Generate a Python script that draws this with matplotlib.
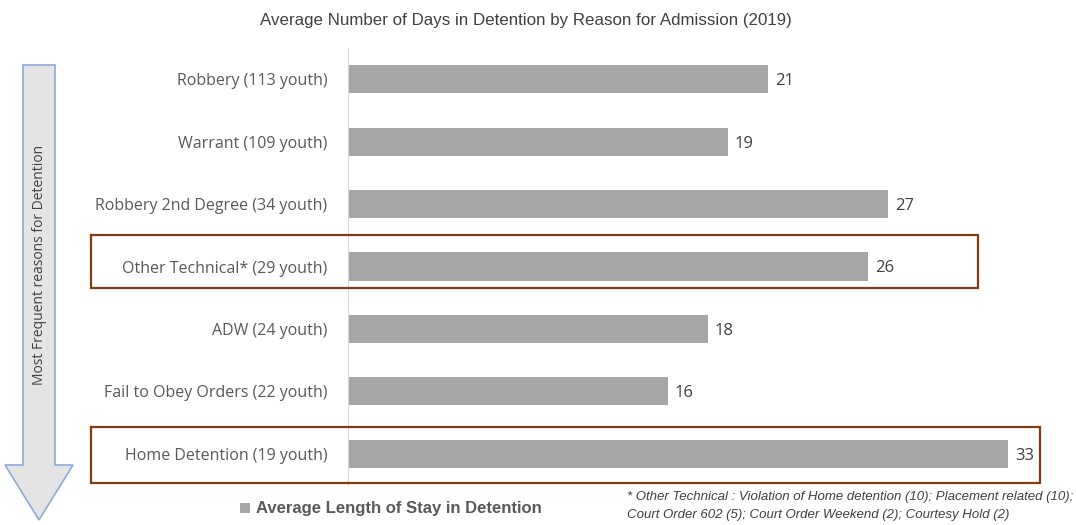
import matplotlib.pyplot as plt
from matplotlib.patches import Rectangle, FancyArrow

categories = ['Robbery (113 youth)', 'Warrant (109 youth)', 'Robbery 2nd Degree (34 youth)',
              'Other Technical* (29 youth)', 'ADW (24 youth)', 'Fail to Obey Orders (22 youth)',
              'Home Detention (19 youth)']
avg_days = [21, 19, 27, 26, 18, 16, 33]

plt.rcParams['font.family'] = ['Liberation Sans', 'DejaVu Sans']

W, H = 1076, 525
fig = plt.figure(figsize=(W / 100, H / 100), dpi=100)


def fx(x):
    return x / W


def fy(y):
    return 1 - y / H


ax = fig.add_axes([fx(348), fy(485), fx(1048) - fx(348), fy(48) - fy(485)])
ypos = list(range(len(categories)))
ax.barh(ypos, avg_days, height=0.45, color='#a6a6a6')
ax.set_ylim(len(categories) - 0.5, -0.5)
ax.set_xlim(0, 35)
for y, v in zip(ypos, avg_days):
    ax.text(v + 0.35, y + 0.03, str(v), va='center', ha='left', fontsize=12, color='#404040',
            family=['Open Sans', 'DejaVu Sans'])
ax.set_yticks(ypos)
ax.set_yticklabels(categories, fontsize=11.5, color='#595959', family=['Open Sans', 'DejaVu Sans'])
ax.tick_params(axis='y', length=0, pad=15)
ax.set_xticks([])
for s in ['top', 'right', 'bottom']:
    ax.spines[s].set_visible(False)
ax.spines['left'].set_color('#d9d9d9')

# highlight boxes (pixel extents: left, right, top, bottom)
boxes = [(91, 978, 235, 288), (91, 1040, 427, 483)]
for x0, x1, y0, y1 in boxes:
    fig.add_artist(Rectangle((fx(x0), fy(y1)), fx(x1) - fx(x0), fy(y0) - fy(y1),
                             transform=fig.transFigure, fill=False,
                             edgecolor='#843c0c', linewidth=1.6))

fig.text(fx(526), fy(20), 'Average Number of Days in Detention by Reason for Admission (2019)',
         ha='center', va='center', fontsize=12.2, color='#404040')

# arrow on left
arrow = FancyArrow(fx(39), fy(65), 0, fy(520) - fy(65), width=fx(32), head_width=fx(68),
                   head_length=(fy(465) - fy(520)), length_includes_head=True,
                   transform=fig.transFigure, facecolor='#e4e4e4', edgecolor='#8ea9db',
                   linewidth=1.2)
fig.add_artist(arrow)
fig.text(fx(40), fy(265), 'Most Frequent reasons for Detention', rotation=90,
         ha='center', va='center', fontsize=10, color='#404040',
         family=['Open Sans', 'DejaVu Sans'])

# legend
fig.add_artist(Rectangle((fx(240), fy(513)), fx(10), 10 / H, transform=fig.transFigure,
                         facecolor='#a6a6a6', edgecolor='none'))
fig.text(fx(256), fy(508), 'Average Length of Stay in Detention', ha='left', va='center',
         fontsize=12, fontweight='bold', color='#595959')

fig.text(fx(627), fy(497), '* Other Technical : Violation of Home detention (10); Placement related (10);',
         ha='left', va='center', fontsize=9.5, style='italic', color='#404040')
fig.text(fx(627), fy(515), 'Court Order 602 (5); Court Order Weekend (2); Courtesy Hold (2)',
         ha='left', va='center', fontsize=9.5, style='italic', color='#404040')

fig.savefig('out.png', dpi=100)
